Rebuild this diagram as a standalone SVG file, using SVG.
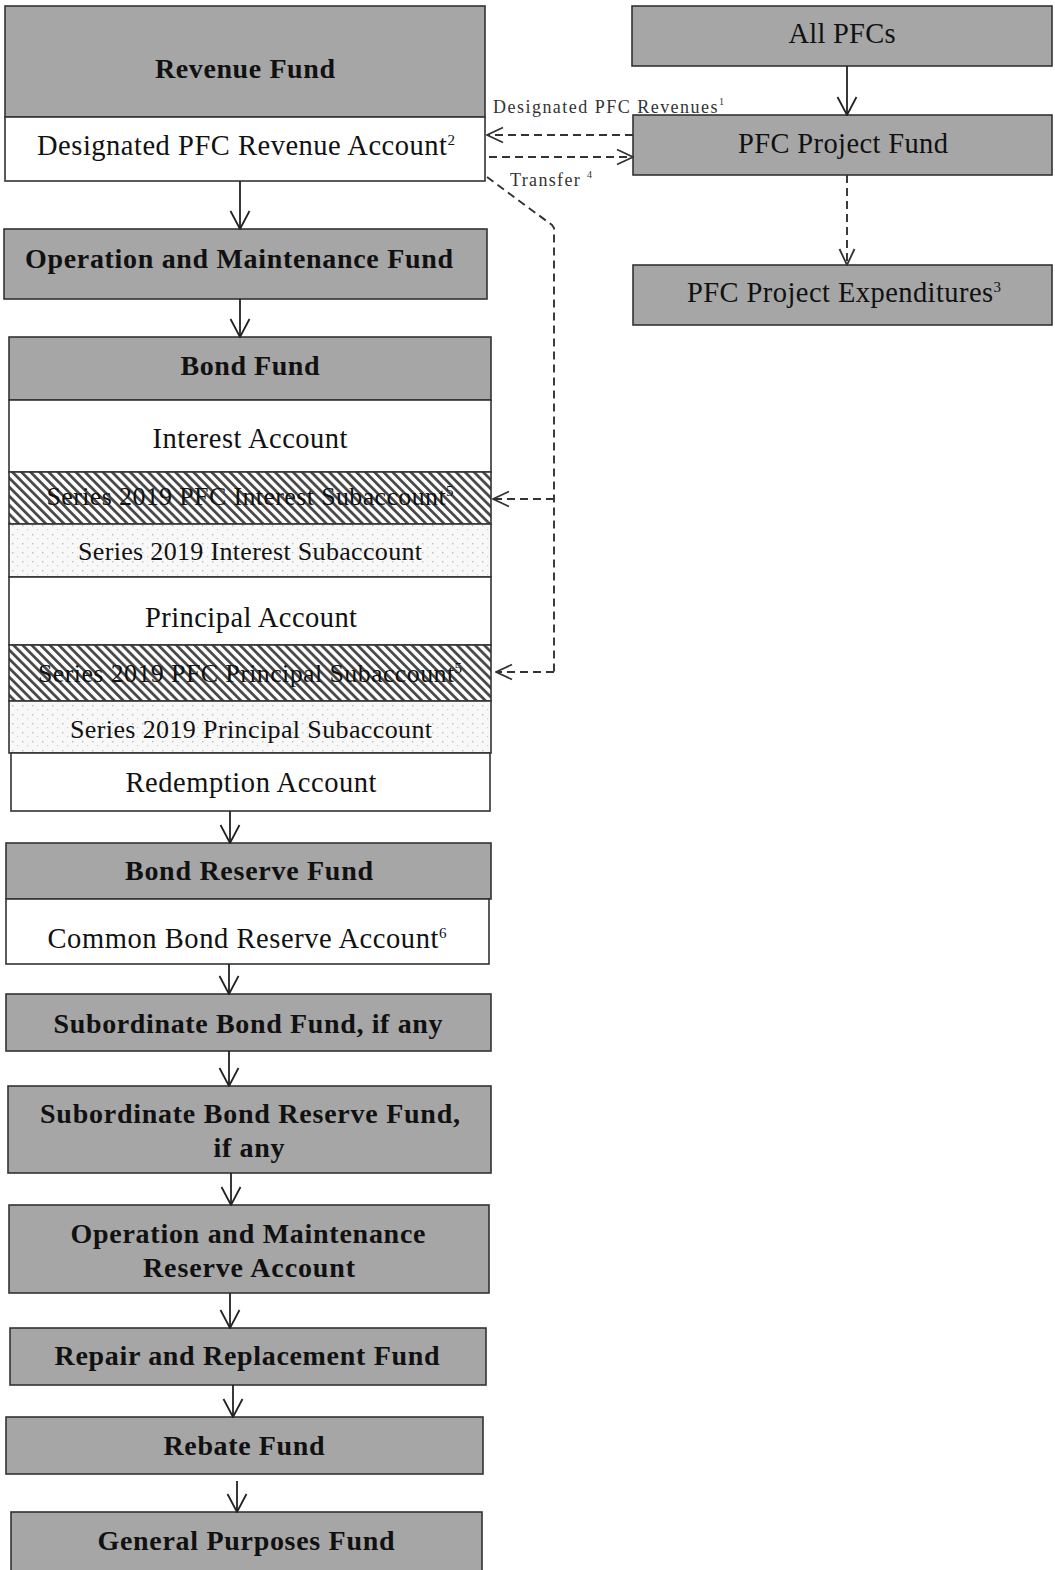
<svg xmlns="http://www.w3.org/2000/svg" width="1055" height="1570" viewBox="0 0 1055 1570">
  <defs>
    <pattern id="hatch" patternUnits="userSpaceOnUse" width="6.4" height="10" patternTransform="rotate(-45)">
      <rect x="0" y="0" width="6.4" height="10" fill="#ffffff"/>
      <rect x="0" y="0" width="2.8" height="10" fill="#4a4a4a"/>
    </pattern>
    <pattern id="dots" patternUnits="userSpaceOnUse" width="10" height="9">
      <rect x="0" y="0" width="10" height="9" fill="#f8f8f8"/>
      <rect x="2" y="3" width="1.4" height="1.4" fill="#bdbdbd"/>
      <rect x="7" y="7" width="1.2" height="1.2" fill="#cccccc"/>
    </pattern>
    <marker id="arr" viewBox="0 0 20 22" refX="19" refY="11" markerWidth="20" markerHeight="22" markerUnits="userSpaceOnUse" orient="auto">
      <path d="M1,1.5 L19,11 L1,20.5" fill="none" stroke="#222" stroke-width="1.8"/>
    </marker>
    <marker id="arrd" viewBox="0 0 18 18" refX="17" refY="9" markerWidth="18" markerHeight="18" markerUnits="userSpaceOnUse" orient="auto">
      <path d="M1,1.5 L17,9 L1,16.5" fill="none" stroke="#333" stroke-width="1.8"/>
    </marker>
  </defs>
  <style>
    .g { fill: #a6a6a6; stroke: #333; stroke-width: 1.6; }
    .w { fill: #ffffff; stroke: #333; stroke-width: 1.6; }
    .h { fill: url(#hatch); stroke: #333; stroke-width: 1.6; }
    .d { fill: url(#dots); stroke: #333; stroke-width: 1.6; }
    .b { font-family: "Liberation Serif", "Times New Roman", serif; font-weight: bold; font-size: 28px; fill: #111; text-anchor: middle; }
    .r { font-family: "Liberation Serif", "Times New Roman", serif; font-size: 28.5px; fill: #111; text-anchor: middle; }
    .s { font-family: "Liberation Serif", "Times New Roman", serif; font-size: 26px; fill: #111; text-anchor: middle; }
    .l { font-family: "Liberation Serif", "Times New Roman", serif; font-size: 18px; fill: #333; }
    .sup { font-size: 15px; }
    .c { stroke: #222; stroke-width: 1.8; fill: none; marker-end: url(#arr); }
    .cd { stroke: #333; stroke-width: 1.9; fill: none; stroke-dasharray: 8 5; }
    .cda { stroke: #333; stroke-width: 1.9; fill: none; stroke-dasharray: 8 5; marker-end: url(#arrd); }
  </style>
  <rect x="0" y="0" width="1055" height="1570" fill="#ffffff"/>

  <g id="revenue-fund">
    <rect class="g" x="5" y="6" width="480" height="111"/>
    <text class="b" x="245" y="78" textLength="180" lengthAdjust="spacing">Revenue Fund</text>
    <rect class="w" x="5" y="117" width="480" height="64"/>
    <text class="r" x="246" y="155" textLength="418" lengthAdjust="spacing">Designated PFC Revenue Account<tspan class="sup" dy="-10">2</tspan></text>
  </g>

  <g id="om-fund">
    <rect class="g" x="4" y="229" width="483" height="70"/>
    <text class="b" x="239" y="268" textLength="428" lengthAdjust="spacing">Operation and Maintenance Fund</text>
  </g>

  <g id="bond-fund">
    <rect class="g" x="9" y="337" width="482" height="63"/>
    <text class="b" x="250" y="375" textLength="139" lengthAdjust="spacing">Bond Fund</text>
    <rect class="w" x="9" y="400" width="482" height="72"/>
    <text class="r" x="250" y="448" textLength="195" lengthAdjust="spacing">Interest Account</text>
    <rect class="h" x="9" y="472" width="482" height="52"/>
    <text class="s" x="250" y="505" textLength="407" lengthAdjust="spacing">Series 2019 PFC Interest Subaccount<tspan class="sup" dy="-9">5</tspan></text>
    <rect class="d" x="9" y="524" width="482" height="53"/>
    <text class="s" x="250" y="560" textLength="344" lengthAdjust="spacing">Series 2019 Interest Subaccount</text>
    <rect class="w" x="9" y="577" width="482" height="68"/>
    <text class="r" x="251" y="627" textLength="212" lengthAdjust="spacing">Principal Account</text>
    <rect class="h" x="9" y="645" width="482" height="56"/>
    <text class="s" x="250" y="682" textLength="424" lengthAdjust="spacing">Series 2019 PFC Principal Subaccount<tspan class="sup" dy="-9">5</tspan></text>
    <rect class="d" x="9" y="701" width="482" height="52"/>
    <text class="s" x="251" y="738" textLength="362" lengthAdjust="spacing">Series 2019 Principal Subaccount</text>
    <rect class="w" x="11" y="753" width="479" height="58"/>
    <text class="r" x="251" y="792" textLength="251" lengthAdjust="spacing">Redemption Account</text>
  </g>

  <g id="bond-reserve-fund">
    <rect class="g" x="6" y="843" width="485" height="56"/>
    <text class="b" x="249" y="880" textLength="248" lengthAdjust="spacing">Bond Reserve Fund</text>
    <rect class="w" x="6" y="899" width="483" height="65"/>
    <text class="r" x="247" y="948" textLength="399" lengthAdjust="spacing">Common Bond Reserve Account<tspan class="sup" dy="-10">6</tspan></text>
  </g>

  <g id="subordinate-bond-fund">
    <rect class="g" x="6" y="994" width="485" height="57"/>
    <text class="b" x="248" y="1033" textLength="389" lengthAdjust="spacing">Subordinate Bond Fund, if any</text>
  </g>

  <g id="subordinate-bond-reserve-fund">
    <rect class="g" x="8" y="1086" width="483" height="87"/>
    <text class="b" x="250" y="1123" textLength="420" lengthAdjust="spacing">Subordinate Bond Reserve Fund,</text>
    <text class="b" x="249" y="1157" textLength="71" lengthAdjust="spacing">if any</text>
  </g>

  <g id="om-reserve-account">
    <rect class="g" x="9" y="1205" width="480" height="88"/>
    <text class="b" x="248" y="1243" textLength="355" lengthAdjust="spacing">Operation and Maintenance</text>
    <text class="b" x="249" y="1277" textLength="212" lengthAdjust="spacing">Reserve Account</text>
  </g>

  <g id="repair-replacement-fund">
    <rect class="g" x="10" y="1328" width="476" height="57"/>
    <text class="b" x="247" y="1365" textLength="385" lengthAdjust="spacing">Repair and Replacement Fund</text>
  </g>

  <g id="rebate-fund">
    <rect class="g" x="6" y="1417" width="477" height="57"/>
    <text class="b" x="244" y="1455" textLength="161" lengthAdjust="spacing">Rebate Fund</text>
  </g>

  <g id="general-purposes-fund">
    <rect class="g" x="11" y="1512" width="471" height="62"/>
    <text class="b" x="246" y="1550" textLength="297" lengthAdjust="spacing">General Purposes Fund</text>
  </g>

  <g id="all-pfcs">
    <rect class="g" x="632" y="6" width="420" height="60"/>
    <text class="r" x="842" y="43" textLength="107" lengthAdjust="spacing">All PFCs</text>
  </g>

  <g id="pfc-project-fund">
    <rect class="g" x="633" y="115" width="419" height="60"/>
    <text class="r" x="843" y="153" textLength="210" lengthAdjust="spacing">PFC Project Fund</text>
  </g>

  <g id="pfc-project-expenditures">
    <rect class="g" x="633" y="265" width="419" height="60"/>
    <text class="r" x="844" y="302" textLength="314" lengthAdjust="spacing">PFC Project Expenditures<tspan class="sup" dy="-10">3</tspan></text>
  </g>

  <g id="connectors">
    <line class="c" x1="240" y1="181" x2="240" y2="229"/>
    <line class="c" x1="240" y1="299" x2="240" y2="337"/>
    <line class="c" x1="230" y1="811" x2="230" y2="843"/>
    <line class="c" x1="229" y1="964" x2="229" y2="994"/>
    <line class="c" x1="229" y1="1051" x2="229" y2="1086"/>
    <line class="c" x1="231" y1="1173" x2="231" y2="1205"/>
    <line class="c" x1="230" y1="1293" x2="230" y2="1328"/>
    <line class="c" x1="233" y1="1385" x2="233" y2="1417"/>
    <line class="c" x1="237" y1="1481" x2="237" y2="1512"/>
    <line class="c" x1="847" y1="66" x2="847" y2="115"/>
    <line class="cda" x1="847" y1="175" x2="847" y2="265"/>
    <line class="cda" x1="633" y1="135" x2="487" y2="135"/>
    <line class="cda" x1="489" y1="157" x2="633" y2="157"/>
    <path class="cd" d="M487,177 L552,225 L554,228 L554,672"/>
    <line class="cda" x1="554" y1="499" x2="493" y2="499"/>
    <line class="cda" x1="554" y1="672" x2="496" y2="672"/>
    <text class="l" x="493" y="113" textLength="231" lengthAdjust="spacing">Designated PFC Revenues<tspan font-size="10" dy="-8">1</tspan></text>
    <text class="l" x="510" y="186" textLength="82" lengthAdjust="spacing">Transfer <tspan font-size="10" dy="-8">4</tspan></text>
  </g>
</svg>
